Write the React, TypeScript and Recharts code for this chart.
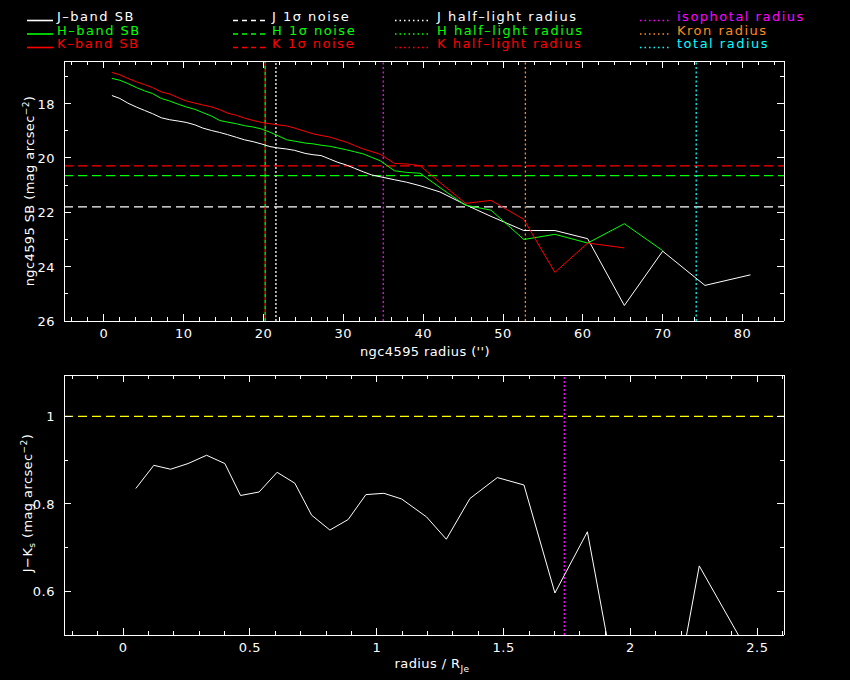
import React from 'react';
import { LineChart, Line, XAxis, YAxis, ReferenceLine } from 'recharts';

// ---------- top panel data (surface brightness profiles) ----------
const radius = [1.0, 2.0, 3.0, 4.1, 5.1, 6.1, 7.2, 8.2, 9.3, 10.3, 11.4, 12.4, 13.5, 14.5, 15.5, 16.6, 17.6, 18.7, 19.7, 20.8, 21.8, 22.9, 23.9, 25.2, 26.2, 27.2, 28.3, 29.3, 30.4, 31.4, 32.5, 33.5, 34.6, 36.4, 37.9, 39.6, 42.1, 45.3, 48.5, 52.6, 56.5, 60.6, 65.2, 70.0, 75.3, 81.0];
const jBandSB = [17.70, 17.81, 17.98, 18.13, 18.25, 18.37, 18.52, 18.59, 18.64, 18.69, 18.78, 18.90, 18.99, 19.06, 19.14, 19.24, 19.33, 19.40, 19.48, 19.58, 19.63, 19.67, 19.72, 19.83, 19.88, 19.91, 20.04, 20.16, 20.26, 20.38, 20.51, 20.62, 20.69, 20.80, 20.89, 21.02, 21.25, 21.72, 22.15, 22.67, 22.67, 22.97, 25.43, 23.43, 24.69, 24.30];
const hBandSB = [17.07, 17.14, 17.26, 17.41, 17.53, 17.63, 17.81, 17.90, 18.02, 18.12, 18.21, 18.33, 18.46, 18.62, 18.68, 18.74, 18.81, 18.86, 18.93, 19.05, 19.18, 19.33, 19.38, 19.45, 19.48, 19.53, 19.57, 19.63, 19.70, 19.77, 19.85, 19.97, 20.10, 20.47, 20.53, 20.56, 21.09, 21.74, 21.92, 23.00, 22.81, 23.13, 22.42, 23.41, null, null];
const kBandSB = [16.85, 16.94, 17.07, 17.20, 17.30, 17.41, 17.57, 17.64, 17.78, 17.90, 17.98, 18.05, 18.12, 18.22, 18.35, 18.43, 18.53, 18.62, 18.69, 18.74, 18.78, 18.82, 18.90, 19.02, 19.11, 19.17, 19.23, 19.32, 19.42, 19.54, 19.67, 19.76, 19.86, 20.20, 20.22, 20.28, 20.90, 21.67, 21.56, 22.26, 24.21, 23.13, 23.31, null, null, null];

const noiseJ = 21.8;
const noiseH = 20.65;
const noiseK = 20.29;
const halfLightJ = 21.55;
const halfLightH = 20.2;
const halfLightK = 20.2;
const isophotalRadius = 35.0;
const kronRadius = 52.8;
const totalRadius = 74.2;

const radiusDomain = [-5, 85.2];
const sbDomain = [16.43, 26];
const radiusTicks = [-4, -2, 0, 2, 4, 6, 8, 10, 12, 14, 16, 18, 20, 22, 24, 26, 28, 30, 32, 34, 36, 38, 40, 42, 44, 46, 48, 50, 52, 54, 56, 58, 60, 62, 64, 66, 68, 70, 72, 74, 76, 78, 80, 82, 84];
const sbTicks = [17, 18, 19, 20, 21, 22, 23, 24, 25, 26];

// ---------- bottom panel data (colour profile) ----------
const normRadius = [0.050, 0.121, 0.187, 0.256, 0.329, 0.401, 0.463, 0.536, 0.607, 0.677, 0.743, 0.815, 0.887, 0.957, 1.028, 1.098, 1.196, 1.274, 1.367, 1.475, 1.580, 1.702, 1.830, 1.96, 2.11, 2.271, 2.43, 2.59];
const jkColour = [0.835, 0.888, 0.879, 0.892, 0.911, 0.892, 0.819, 0.827, 0.872, 0.847, 0.774, 0.740, 0.764, 0.821, 0.824, 0.811, 0.770, 0.719, 0.812, 0.860, 0.843, 0.596, 0.736, 0.33, 0.15, 0.658, 0.495, 0.30];
const colourRef = 1.0;
const isophotalNorm = 1.739;
const normDomain = [-0.233, 2.605];
const colourDomain = [0.5, 1.0945];
const normTicks = [-0.2, -0.1, 0, 0.1, 0.2, 0.3, 0.4, 0.5, 0.6, 0.7, 0.8, 0.9, 1.0, 1.1, 1.2, 1.3, 1.4, 1.5, 1.6, 1.7, 1.8, 1.9, 2.0, 2.1, 2.2, 2.3, 2.4, 2.5, 2.6];
const colourTicks = [0.6, 0.7, 0.8, 0.9, 1.0];

const FONT = "'DejaVu Sans', Verdana, sans-serif";
const FS = 13;
const LEGEND_FS = 13;
const WHITE = '#ffffff';
const GREEN = '#00ff00';
const RED = '#ff0000';
const MAGENTA = '#ff00ff';
const ORANGE = '#ff8c1a';
const CYAN = '#00ffff';
const YELLOW = '#ffff00';
const REF_W = 1.3;

const topData = radius.map((r, i) => ({ r, j: jBandSB[i], h: hBandSB[i], k: kBandSB[i] }));
const bottomData = normRadius.map((x, i) => ({ x, c: jkColour[i] }));

type Side = 'bottom' | 'top' | 'left' | 'right';

function makeTick(side: Side, isMajor: (v: number) => boolean, fmt: ((v: number) => string) | null) {
  return (props: any) => {
    const { x, y, payload } = props;
    const v = payload.value;
    const major = isMajor(v);
    const len = major ? 7 : 4;
    let line: any = null;
    const common = { stroke: WHITE, strokeWidth: 1, shapeRendering: 'crispEdges' as const };
    if (side === 'bottom') line = <line x1={x} y1={y} x2={x} y2={y - len} {...common} />;
    if (side === 'top') line = <line x1={x} y1={y} x2={x} y2={y + len} {...common} />;
    if (side === 'left') line = <line x1={x} y1={y} x2={x + len} y2={y} {...common} />;
    if (side === 'right') line = <line x1={x} y1={y} x2={x - len} y2={y} {...common} />;
    let label: any = null;
    if (fmt && major) {
      if (side === 'bottom') {
        label = <text x={x} y={y + 17} textAnchor="middle" fill={WHITE} fontFamily={FONT} fontSize={FS} letterSpacing={0.5}>{fmt(v)}</text>;
      } else if (side === 'left') {
        label = <text x={x - 9} y={y + 5} textAnchor="end" fill={WHITE} fontFamily={FONT} fontSize={FS} letterSpacing={0.5}>{fmt(v)}</text>;
      }
    }
    return <g>{line}{label}</g>;
  };
}

const fmtNum = (v: number) => String(Math.round(v * 10) / 10);
const majorTen = (v: number) => Math.round(v) % 10 === 0;
const majorTwo = (v: number) => Math.round(v) % 2 === 0;
const majorHalf = (v: number) => Math.round(v * 10) % 5 === 0;
const majorFifth = (v: number) => Math.round(v * 10) % 2 === 0;

const axisLine = { stroke: WHITE, strokeWidth: 1, shapeRendering: 'crispEdges' };

function LegendOverlay() {
  const rows = [20.5, 34, 47.5];
  const col1 = [{ t: 'J\u2013band SB', c: WHITE }, { t: 'H\u2013band SB', c: GREEN }, { t: 'K\u2013band SB', c: RED }];
  const col2 = [{ t: 'J 1\u03c3 noise', c: WHITE }, { t: 'H 1\u03c3 noise', c: GREEN }, { t: 'K 1\u03c3 noise', c: RED }];
  const col3 = [{ t: 'J half\u2013light radius', c: WHITE }, { t: 'H half\u2013light radius', c: GREEN }, { t: 'K half\u2013light radius', c: RED }];
  const col4 = [{ t: 'isophotal radius', c: MAGENTA }, { t: 'Kron radius', c: ORANGE }, { t: 'total radius', c: CYAN }];
  const txt = (x: number, y: number, t: string, c: string, key: string) => (
    <text key={key} x={x} y={y + 0.5} fill={c} fontFamily={FONT} fontSize={LEGEND_FS} letterSpacing={1.5}>{t}</text>
  );
  return (
    <g>
      {col1.map((e, i) => (
        <g key={'a' + i}>
          <line x1={27} x2={53} y1={rows[i]} y2={rows[i]} stroke={e.c} strokeWidth={1.6} />
          {txt(57, rows[i], e.t, e.c, 'at' + i)}
        </g>
      ))}
      {col2.map((e, i) => (
        <g key={'b' + i}>
          <line x1={233} x2={266} y1={rows[i]} y2={rows[i]} stroke={e.c} strokeWidth={1.6} strokeDasharray="5 4" />
          {txt(272, rows[i], e.t, e.c, 'bt' + i)}
        </g>
      ))}
      {col3.map((e, i) => (
        <g key={'c' + i}>
          <line x1={395} x2={428} y1={rows[i]} y2={rows[i]} stroke={e.c} strokeWidth={1.6} strokeDasharray="1.5 3" />
          {txt(437, rows[i], e.t, e.c, 'ct' + i)}
        </g>
      ))}
      {col4.map((e, i) => (
        <g key={'d' + i}>
          <line x1={640} x2={669} y1={rows[i]} y2={rows[i]} stroke={e.c} strokeWidth={1.6} strokeDasharray="1.5 3" />
          {txt(677, rows[i], e.t, e.c, 'dt' + i)}
        </g>
      ))}
    </g>
  );
}

function TitlesOverlay() {
  return (
    <g fill={WHITE} fontFamily={FONT} fontSize={FS} letterSpacing={0.4}>
      <text transform="translate(34,191) rotate(-90)" textAnchor="middle">
        ngc4595 SB (mag arcsec<tspan dy={-5} fontSize={9}>{'\u22122'}</tspan><tspan dy={5}>)</tspan>
      </text>
      <text x={425} y={356} textAnchor="middle">ngc4595 radius ('')</text>
      <text transform="translate(32,503) rotate(-90)" textAnchor="middle">
        J{'\u2212'}K<tspan dy={3} fontSize={9}>s</tspan><tspan dy={-3}> (mag arcsec</tspan><tspan dy={-5} fontSize={9}>{'\u22122'}</tspan><tspan dy={5}>)</tspan>
      </text>
      <text x={432} y={668} textAnchor="middle">
        radius / R<tspan dy={4} fontSize={9}>Je</tspan>
      </text>
    </g>
  );
}

export default function App() {
  return (
    <div style={{ position: 'absolute', left: 0, top: 0, width: 850, height: 680, background: '#000', overflow: 'hidden' }}>
      <div style={{ position: 'absolute', left: 0, top: 0 }}>
        <LineChart width={850} height={340} data={topData} margin={{ top: 60, right: 65, bottom: 18, left: 63 }}>
          <XAxis xAxisId={0} type="number" dataKey="r" domain={radiusDomain} allowDataOverflow ticks={radiusTicks} interval={0}
            orientation="bottom" height={1} tickSize={0} tickMargin={0} tickLine={false} axisLine={axisLine}
            tick={makeTick('bottom', majorTen, fmtNum)} />
          <XAxis xAxisId="top" type="number" dataKey="r" domain={radiusDomain} allowDataOverflow ticks={radiusTicks} interval={0}
            orientation="top" height={1} tickSize={0} tickMargin={0} tickLine={false} axisLine={axisLine}
            tick={makeTick('top', majorTen, null)} />
          <YAxis yAxisId={0} type="number" domain={sbDomain} reversed allowDataOverflow ticks={sbTicks} interval={0}
            orientation="left" width={1} tickSize={0} tickMargin={0} tickLine={false} axisLine={axisLine}
            tick={makeTick('left', majorTwo, fmtNum)} />
          <YAxis yAxisId="right" type="number" domain={sbDomain} reversed allowDataOverflow ticks={sbTicks} interval={0}
            orientation="right" width={1} tickSize={0} tickMargin={0} tickLine={false} axisLine={axisLine}
            tick={makeTick('right', majorTwo, null)} />
          <ReferenceLine y={noiseK} stroke={RED} strokeWidth={REF_W} strokeDasharray="9 5" />
          <ReferenceLine y={noiseH} stroke={GREEN} strokeWidth={REF_W} strokeDasharray="9 5" />
          <ReferenceLine y={noiseJ} stroke={WHITE} strokeWidth={REF_W} strokeDasharray="9 5" />
          <ReferenceLine x={halfLightH} stroke={GREEN} strokeWidth={REF_W} strokeDasharray="3 3" />
          <ReferenceLine x={halfLightK} stroke={RED} strokeWidth={REF_W} strokeDasharray="3 3" strokeDashoffset={3} />
          <ReferenceLine x={halfLightJ} stroke={WHITE} strokeWidth={REF_W} strokeDasharray="2 2" />
          <ReferenceLine x={isophotalRadius} stroke={MAGENTA} strokeWidth={REF_W} strokeDasharray="2 2.5" />
          <ReferenceLine x={kronRadius} stroke={ORANGE} strokeWidth={REF_W} strokeDasharray="2 2.5" />
          <ReferenceLine x={totalRadius} stroke={CYAN} strokeWidth={REF_W} strokeDasharray="2 2.5" />
          <Line type="linear" dataKey="j" stroke={WHITE} strokeWidth={1} dot={false} isAnimationActive={false} />
          <Line type="linear" dataKey="h" stroke={GREEN} strokeWidth={1} dot={false} isAnimationActive={false} />
          <Line type="linear" dataKey="k" stroke={RED} strokeWidth={1} dot={false} isAnimationActive={false} />
        </LineChart>
      </div>
      <div style={{ position: 'absolute', left: 0, top: 340 }}>
        <LineChart width={850} height={340} data={bottomData} margin={{ top: 34, right: 65, bottom: 44, left: 63 }}>
          <XAxis xAxisId={0} type="number" dataKey="x" domain={normDomain} allowDataOverflow ticks={normTicks} interval={0}
            orientation="bottom" height={1} tickSize={0} tickMargin={0} tickLine={false} axisLine={axisLine}
            tick={makeTick('bottom', majorHalf, fmtNum)} />
          <XAxis xAxisId="top" type="number" dataKey="x" domain={normDomain} allowDataOverflow ticks={normTicks} interval={0}
            orientation="top" height={1} tickSize={0} tickMargin={0} tickLine={false} axisLine={axisLine}
            tick={makeTick('top', majorHalf, null)} />
          <YAxis yAxisId={0} type="number" domain={colourDomain} allowDataOverflow ticks={colourTicks} interval={0}
            orientation="left" width={1} tickSize={0} tickMargin={0} tickLine={false} axisLine={axisLine}
            tick={makeTick('left', majorFifth, fmtNum)} />
          <YAxis yAxisId="right" type="number" domain={colourDomain} allowDataOverflow ticks={colourTicks} interval={0}
            orientation="right" width={1} tickSize={0} tickMargin={0} tickLine={false} axisLine={axisLine}
            tick={makeTick('right', majorFifth, null)} />
          <ReferenceLine y={colourRef} stroke={YELLOW} strokeWidth={REF_W} strokeDasharray="9 5" />
          <ReferenceLine x={isophotalNorm} stroke={MAGENTA} strokeWidth={REF_W} strokeDasharray="2 2" />
          <Line type="linear" dataKey="c" stroke={WHITE} strokeWidth={1} dot={false} isAnimationActive={false} />
        </LineChart>
      </div>
      <svg width={850} height={680} style={{ position: 'absolute', left: 0, top: 0, pointerEvents: 'none' }}>
        <LegendOverlay />
        <TitlesOverlay />
      </svg>
    </div>
  );
}
